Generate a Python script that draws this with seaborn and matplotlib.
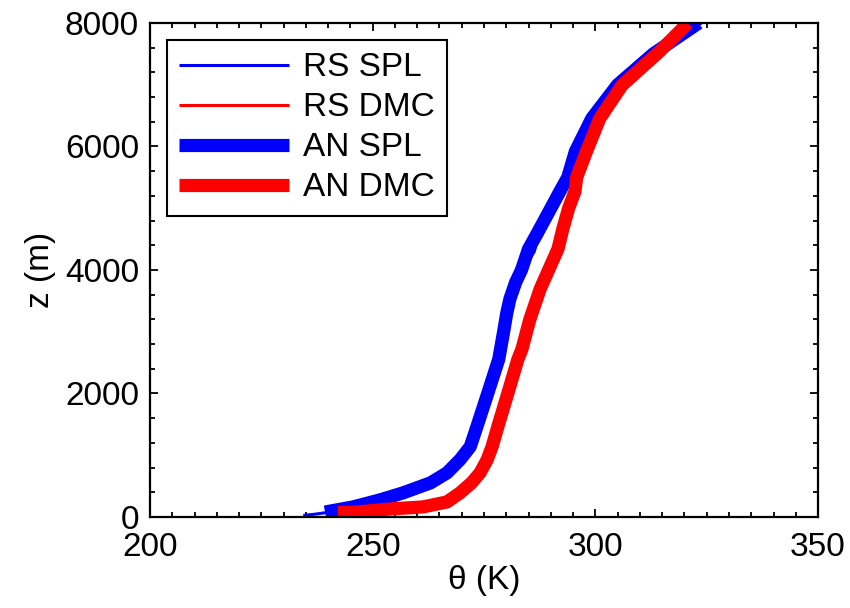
import numpy as np
import pandas as pd
import matplotlib
matplotlib.use("Agg")
import matplotlib.pyplot as plt
from matplotlib.ticker import MultipleLocator
import seaborn as sns

# ---- data ----
rs_spl_z = [25, 45, 70, 163, 276, 390, 553, 715, 927, 1138, 1463, 2016, 2553, 3000, 3528,
            3800, 4000, 4300, 4600, 5000, 5268, 5500, 5919, 6455, 7000, 7500, 8000]
rs_spl_t = [234.4, 237.0, 239.5, 245.8, 251.8, 257.0, 263.2, 266.9, 269.8, 272.1, 273.6, 276.1,
            278.5, 279.6, 281.0, 282.3, 283.7, 286.3, 287.3, 290.2, 292.2, 294.0, 295.7, 299.4,
            305.2, 313.3, 323.8]

rs_dmc_z = [70, 81, 130, 163, 244, 390, 553, 715, 927, 1138, 1463, 2016, 2553, 3203, 3691,
            4000, 4341, 4667, 5000, 5268, 5500, 5919, 6455, 6992, 7545, 8000]
rs_dmc_t = [242.4, 246.7, 254.2, 261.5, 266.9, 269.8, 272.4, 274.3, 275.9, 277.0, 278.3, 280.6,
            282.8, 285.5, 287.8, 289.7, 291.8, 292.9, 294.2, 295.6, 296.0, 298.2, 301.2, 306.2,
            314.7, 321.0]

an_spl_z = [80, 163, 276, 390, 553, 715, 927, 1138, 1463, 2016, 2553, 3000, 3300, 3528, 3800,
            4000, 4341, 4600, 5000, 5268, 5500, 5919, 6455, 7000, 7500, 8000]
an_spl_t = [239.3, 245.6, 251.6, 256.8, 263.0, 266.7, 269.6, 271.9, 273.4, 275.9, 278.3, 279.4,
            280.1, 280.8, 282.1, 283.4, 285.0, 287.0, 290.0, 292.0, 293.8, 295.5, 299.2, 305.0,
            313.0, 323.2]

an_dmc_z = [70, 81, 130, 163, 244, 390, 553, 715, 927, 1138, 1463, 2016, 2553, 2715, 3203,
            3691, 4000, 4341, 4667, 5000, 5268, 5500, 5919, 6455, 6992, 7545, 8000]
an_dmc_t = [242.2, 246.5, 254.0, 261.3, 266.7, 269.6, 272.2, 274.1, 275.7, 276.8, 278.1, 280.4,
            282.6, 283.5, 285.3, 287.6, 289.5, 291.6, 292.7, 294.0, 295.4, 295.8, 298.0, 301.0,
            306.0, 314.5, 320.8]

series_names = ["RS SPL", "RS DMC", "AN SPL", "AN DMC"]
x_ticks = [200, 250, 300, 350]
y_ticks = [0, 2000, 4000, 6000, 8000]

series = [
    (series_names[0], rs_spl_t, rs_spl_z, "#0000ff", 2.2),
    (series_names[1], rs_dmc_t, rs_dmc_z, "#ff0000", 2.2),
    (series_names[2], an_spl_t, an_spl_z, "#0000ff", 9.5),
    (series_names[3], an_dmc_t, an_dmc_z, "#ff0000", 9.5),
]

sns.set_theme(style="ticks")
plt.rcParams["font.family"] = ["Liberation Sans", "DejaVu Sans"]
plt.rcParams["text.color"] = "black"
plt.rcParams["axes.labelcolor"] = "black"

fig = plt.figure(figsize=(8.5, 6.08), dpi=100)
ax = fig.add_axes([0.1765, 0.1497, 0.9624 - 0.1765, 0.9622 - 0.1497])

for name, t, z, col, lw in series:
    df = pd.DataFrame({"theta": t, "z": z})
    sns.lineplot(data=df, x="theta", y="z", sort=False, estimator=None, color=col,
                 linewidth=lw, label=name, ax=ax, solid_capstyle="butt",
                 solid_joinstyle="round")

ax.set_xlim(200, 350)
ax.set_ylim(0, 8000)
ax.set_xticks(x_ticks)
ax.set_yticks(y_ticks)
ax.xaxis.set_minor_locator(MultipleLocator(5))
ax.yaxis.set_minor_locator(MultipleLocator(400))
ax.tick_params(which="both", direction="in", top=True, right=True, colors="black",
               labelcolor="black", labelsize=24, width=1.3)
ax.tick_params(which="major", length=6)
ax.tick_params(axis="x", which="major", pad=11)
ax.tick_params(axis="y", which="major", pad=8)
ax.tick_params(which="minor", length=3.5)
for sp in ax.spines.values():
    sp.set_visible(True)
    sp.set_linewidth(1.6)
    sp.set_color("black")

ax.set_xlabel("θ (K)", fontsize=24, labelpad=1, color="black")
ax.set_ylabel("z (m)", fontsize=24, labelpad=6, color="black")

leg = ax.legend(loc="upper left", bbox_to_anchor=(0.025, 0.966), fontsize=24, frameon=True,
                fancybox=False, edgecolor="black", handlelength=3.3, handletextpad=0.4,
                labelspacing=0.27, borderpad=0.38, borderaxespad=0.0)
leg.get_frame().set_linewidth(1.5)
leg.get_frame().set_alpha(1)
for txt in leg.get_texts():
    txt.set_color("black")

fig.savefig("out.png", dpi=100)
